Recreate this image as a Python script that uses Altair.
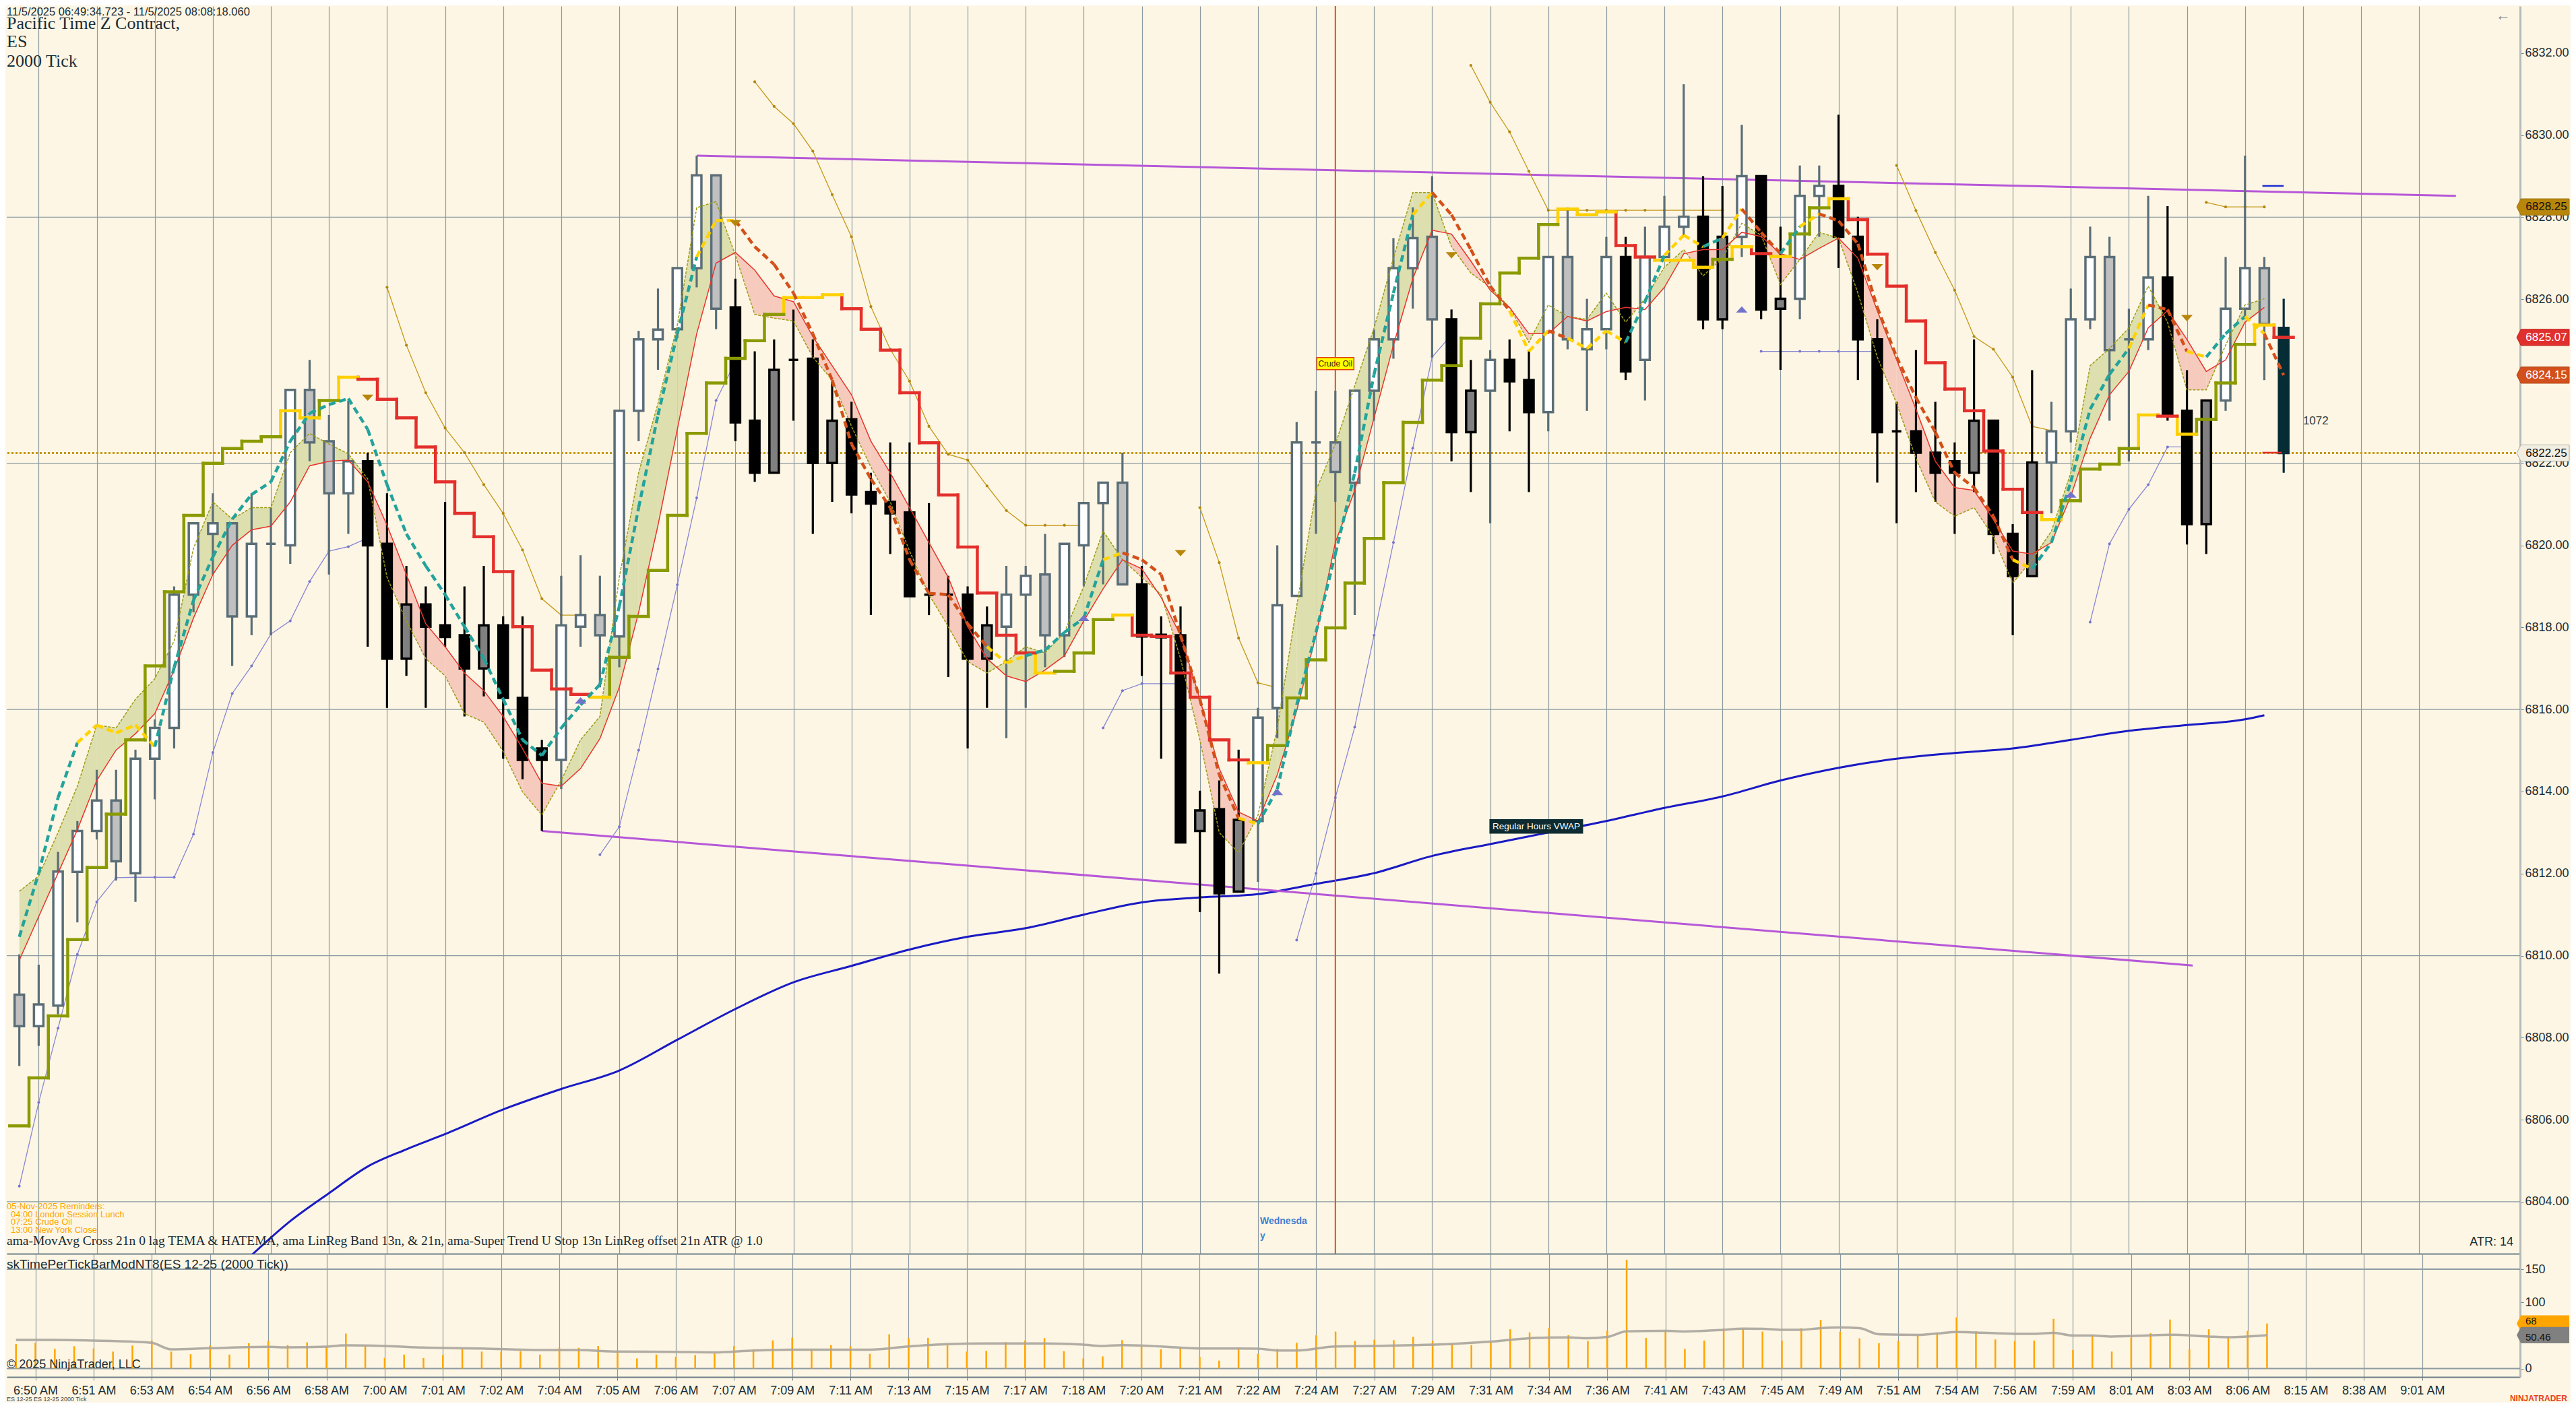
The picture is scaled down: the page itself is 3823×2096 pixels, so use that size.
import json
import altair as alt
import pandas as pd

# ------------------------------------------------------------------ data
TIME_LABELS = ["6:50 AM", "6:51 AM", "6:53 AM", "6:54 AM", "6:56 AM", "6:58 AM", "7:00 AM",
               "7:01 AM", "7:02 AM", "7:04 AM", "7:05 AM", "7:06 AM", "7:07 AM", "7:09 AM",
               "7:11 AM", "7:13 AM", "7:15 AM", "7:17 AM", "7:18 AM", "7:20 AM", "7:21 AM",
               "7:22 AM", "7:24 AM", "7:27 AM", "7:29 AM", "7:31 AM", "7:34 AM", "7:36 AM",
               "7:41 AM", "7:43 AM", "7:45 AM", "7:49 AM", "7:51 AM", "7:54 AM", "7:56 AM",
               "7:59 AM", "8:01 AM", "8:03 AM", "8:06 AM", "8:15 AM", "8:38 AM", "9:01 AM"]
FIRST_LABEL_BAR = 1
BARS_PER_LABEL = 3

# candle kind: W up-bar, G down-bar in up trend, B down-bar, D up-bar in down trend, C live bar
KIND = ("GWWWWGWWWW" "WGWWWGGWBB" "DBBBDBBBWW" "GWWWWWGBBD" "BBDBBBBBBB"
        "DWWGWWWGBB" "BDBDWWWWGW" "WWWGBDWBBW" "GWWBWWWBDW" "BDWWBBBBBB"
        "BDBBDWWWGW" "WBBDWWGC")

OPEN = [6809.05, 6808.28, 6808.78, 6812.04, 6813.04, 6813.78, 6812.01, 6814.80, 6815.55, 6818.80,
        6820.28, 6820.54, 6818.27, 6820.04, 6820.00, 6823.79, 6822.54, 6821.27, 6822.05, 6820.04,
        6817.24, 6818.56, 6818.05, 6817.81, 6817.00, 6818.05, 6816.28, 6815.05, 6814.77, 6818.02,
        6818.30, 6817.78, 6823.28, 6825.02, 6825.27, 6826.76, 6829.02, 6825.80, 6823.04, 6821.77,
        6824.52, 6824.55, 6822.01, 6823.07, 6821.30, 6821.06, 6820.80, 6818.80, 6818.80, 6818.80,
        6817.24, 6818.02, 6818.80, 6819.29, 6817.81, 6820.00, 6821.03, 6821.53, 6819.05, 6817.82,
        6817.81, 6813.04, 6813.57, 6811.56, 6813.28, 6816.04, 6818.77, 6822.51, 6822.51, 6821.53,
        6823.77, 6825.02, 6826.76, 6827.52, 6825.51, 6822.76, 6823.77, 6824.52, 6824.03, 6823.25,
        6827.03, 6824.78, 6825.27, 6827.03, 6824.52, 6827.03, 6827.77, 6828.01, 6825.51, 6827.52,
        6829.00, 6825.77, 6826.01, 6828.52, 6828.76, 6827.52, 6825.02, 6822.78, 6822.78, 6822.26,
        6822.05, 6821.77, 6823.04, 6820.28, 6819.25, 6822.02, 6822.78, 6825.51, 6827.03, 6825.02,
        6825.02, 6826.53, 6823.28, 6820.52, 6823.53, 6825.77, 6826.76, 6825.30]
HIGH = [6810.03, 6809.78, 6812.53, 6813.28, 6814.53, 6814.53, 6815.02, 6815.76, 6819.00, 6820.54,
        6821.27, 6820.54, 6821.27, 6820.92, 6823.79, 6824.52, 6823.18, 6823.53, 6822.26, 6821.27,
        6819.50, 6819.00, 6821.06, 6819.00, 6819.50, 6818.27, 6818.27, 6815.26, 6819.26, 6819.76,
        6819.26, 6823.28, 6825.23, 6826.26, 6826.76, 6829.50, 6829.02, 6826.50, 6824.73, 6825.02,
        6825.75, 6825.02, 6823.99, 6823.50, 6821.77, 6822.51, 6822.51, 6821.03, 6819.26, 6819.00,
        6818.51, 6819.50, 6819.50, 6820.28, 6820.04, 6821.03, 6821.53, 6822.26, 6819.50, 6818.27,
        6818.51, 6814.02, 6814.27, 6815.02, 6816.04, 6820.00, 6823.01, 6823.77, 6823.77, 6823.77,
        6825.26, 6827.49, 6828.24, 6829.00, 6825.75, 6824.52, 6824.76, 6825.02, 6824.76, 6827.03,
        6828.24, 6826.01, 6827.52, 6827.52, 6827.77, 6828.52, 6831.24, 6829.00, 6828.76, 6830.25,
        6829.00, 6827.77, 6829.26, 6829.26, 6830.50, 6828.01, 6825.51, 6823.50, 6824.76, 6823.50,
        6822.51, 6825.02, 6823.04, 6820.52, 6824.27, 6823.50, 6826.26, 6827.77, 6827.52, 6825.77,
        6828.52, 6828.27, 6824.27, 6823.53, 6827.03, 6829.50, 6827.03, 6826.01]
LOW = [6807.31, 6807.80, 6808.57, 6810.81, 6812.83, 6811.83, 6811.31, 6813.81, 6815.05, 6818.37,
       6819.29, 6817.06, 6817.81, 6817.81, 6819.55, 6822.05, 6819.29, 6820.28, 6817.53, 6816.04,
       6816.82, 6816.04, 6817.53, 6815.83, 6816.32, 6814.80, 6814.30, 6813.04, 6814.06, 6817.53,
       6816.54, 6817.03, 6822.54, 6824.28, 6825.05, 6826.29, 6825.27, 6822.54, 6821.55, 6821.77,
       6823.04, 6820.28, 6821.06, 6820.78, 6818.30, 6819.79, 6818.76, 6818.30, 6816.79, 6815.05,
       6816.04, 6815.30, 6816.04, 6817.03, 6817.28, 6819.00, 6819.05, 6819.05, 6816.82, 6814.80,
       6812.76, 6811.06, 6809.56, 6811.56, 6811.80, 6815.30, 6818.77, 6820.28, 6821.06, 6818.30,
       6823.04, 6824.55, 6825.77, 6824.59, 6822.05, 6821.30, 6820.54, 6822.78, 6821.30, 6822.78,
       6824.78, 6823.28, 6824.78, 6824.03, 6823.53, 6827.03, 6827.53, 6825.27, 6825.27, 6827.03,
       6825.51, 6824.28, 6825.51, 6827.52, 6826.76, 6824.03, 6821.53, 6820.54, 6821.30, 6821.06,
       6820.28, 6821.30, 6819.79, 6817.81, 6819.25, 6820.78, 6822.51, 6825.27, 6823.04, 6822.05,
       6824.76, 6823.04, 6820.02, 6819.79, 6823.28, 6825.51, 6824.03, 6821.77]
CLOSE = [6808.28, 6808.81, 6812.05, 6813.04, 6813.78, 6812.30, 6814.80, 6815.55, 6818.80, 6820.54,
         6820.54, 6818.27, 6820.04, 6820.04, 6823.79, 6822.51, 6821.27, 6822.05, 6820.00, 6817.24,
         6818.56, 6818.02, 6817.77, 6817.00, 6818.05, 6816.28, 6814.77, 6814.77, 6818.05, 6818.30,
         6817.81, 6823.28, 6825.02, 6825.26, 6826.76, 6829.02, 6825.77, 6823.00, 6821.77, 6824.28,
         6824.52, 6822.01, 6823.04, 6821.24, 6821.02, 6820.78, 6818.76, 6818.80, 6818.80, 6817.24,
         6818.05, 6818.80, 6819.26, 6817.81, 6820.04, 6821.03, 6821.53, 6819.05, 6817.78, 6817.76,
         6812.76, 6813.54, 6811.52, 6813.31, 6815.80, 6818.54, 6822.51, 6822.51, 6821.79, 6823.77,
         6825.02, 6826.76, 6827.49, 6825.51, 6822.76, 6823.77, 6824.52, 6824.00, 6823.25, 6827.03,
         6825.02, 6825.27, 6827.03, 6824.24, 6827.03, 6827.77, 6828.01, 6825.51, 6827.52, 6829.00,
         6825.75, 6826.01, 6828.52, 6828.76, 6827.52, 6825.02, 6822.76, 6822.78, 6822.26, 6821.77,
         6821.77, 6823.04, 6820.28, 6819.25, 6822.02, 6822.78, 6825.51, 6827.03, 6824.76, 6825.02,
         6826.53, 6823.18, 6820.52, 6823.53, 6825.77, 6826.76, 6825.40, 6822.25]

# super-trend stop (stepped): O olive, R red, Y yellow
STOP = [6805.85, 6807.02, 6808.53, 6810.39, 6812.15, 6813.45, 6815.26, 6817.06, 6818.87, 6820.73,
        6822.00, 6822.36, 6822.54, 6822.65, 6823.28, 6823.11, 6823.53, 6824.10, 6824.05, 6823.56,
        6823.11, 6822.40, 6821.55, 6820.78, 6820.21, 6819.36, 6818.02, 6816.96, 6816.50, 6816.37,
        6816.30, 6817.27, 6818.27, 6819.39, 6820.73, 6822.73, 6823.96, 6824.56, 6824.99, 6825.63,
        6826.04, 6826.04, 6826.11, 6825.77, 6825.27, 6824.76, 6823.72, 6822.50, 6821.23, 6819.96,
        6818.84, 6817.81, 6817.38, 6816.89, 6816.93, 6817.38, 6818.19, 6818.30, 6817.81, 6817.78,
        6816.89, 6816.30, 6815.26, 6814.77, 6814.70, 6815.12, 6816.28, 6817.21, 6817.99, 6819.08,
        6820.17, 6821.53, 6823.00, 6824.03, 6824.38, 6825.05, 6825.89, 6826.64, 6827.00, 6827.82,
        6828.20, 6828.06, 6828.13, 6827.31, 6827.03, 6826.95, 6826.95, 6826.78, 6826.97, 6827.28,
        6827.11, 6827.04, 6827.59, 6828.23, 6828.45, 6827.94, 6827.10, 6826.32, 6825.47, 6824.45,
        6823.81, 6823.28, 6822.30, 6821.37, 6820.80, 6820.63, 6821.09, 6821.86, 6821.98, 6822.36,
        6823.18, 6823.15, 6822.71, 6823.07, 6823.96, 6824.90, 6825.37, 6825.07]
STOP_COL = ("OOOOOOOOOO" "OOOOYYOYRR" "RRRRRRRRRR" "YOOOOOOOOO" "YYYRRRRRRR"
            "RRRYOOOYRR" "RRRRYOOOOO" "OOOOOOOOOO" "YYYRRYYYOY" "RYOOYRRRRR"
            "RRRRRYOOOO" "YRYOOOYR")

# TEMA cross line (dashed), colour of segment i -> i+1: T teal, O orange, Y yellow
TEMA = [6810.46, 6812.01, 6813.85, 6815.19, 6815.62, 6815.43, 6815.62, 6815.09, 6817.03, 6818.66,
        6819.72, 6820.64, 6821.24, 6821.55, 6822.54, 6823.22, 6823.43, 6823.58, 6822.83, 6821.48,
        6820.28, 6819.50, 6818.80, 6818.02, 6817.24, 6816.25, 6815.26, 6814.88, 6815.55, 6816.11,
        6816.61, 6818.51, 6820.92, 6823.18, 6825.16, 6827.03, 6827.92, 6827.92, 6827.28, 6826.85,
        6826.15, 6825.16, 6824.03, 6822.47, 6821.62, 6820.92, 6819.65, 6818.83, 6818.80, 6818.09,
        6817.53, 6817.13, 6817.31, 6817.45, 6817.88, 6818.23, 6819.65, 6819.82, 6819.65, 6819.29,
        6817.81, 6816.25, 6814.41, 6813.35, 6813.21, 6814.06, 6816.11, 6817.88, 6819.79, 6821.77,
        6824.17, 6826.15, 6828.06, 6828.60, 6828.06, 6827.21, 6826.32, 6825.72, 6824.73, 6825.23,
        6825.05, 6824.80, 6825.23, 6824.95, 6825.94, 6827.07, 6827.56, 6827.28, 6827.49, 6828.20,
        6827.63, 6827.11, 6827.77, 6828.08, 6827.91, 6827.35, 6825.80, 6824.59, 6823.60, 6822.76,
        6821.77, 6821.41, 6820.71, 6819.65, 6819.43, 6820.07, 6821.55, 6823.32, 6824.17, 6824.80,
        6825.86, 6825.75, 6824.73, 6824.59, 6825.16, 6825.58, 6825.16, 6824.15]
TEMA_SEG = ("TTTYYYYTTT" "TTTTTTTTTT" "TTTTTTTTTT" "TTTTTYYOOO" "OOOOOOOOOO"
            "YYTTTTYOOO" "OOOYTTTTTT" "TTYOOOOYYO" "YYYTTYYTYO" "OTYOOOOOOO"
            "OOOYTTTTTY" "OOYTTYO")

# LinReg band: fast (13) and slow (21)
FAST = [6811.57, 6811.94, 6813.00, 6814.13, 6815.62, 6815.55, 6816.25, 6816.75, 6817.67, 6819.93,
        6821.06, 6820.64, 6820.92, 6820.92, 6822.26, 6822.73, 6822.47, 6822.23, 6821.62, 6819.22,
        6818.16, 6817.24, 6816.82, 6815.90, 6815.69, 6814.98, 6813.99, 6813.43, 6814.27, 6815.26,
        6815.83, 6819.22, 6821.77, 6823.46, 6825.37, 6828.23, 6828.38, 6827.07, 6825.63, 6825.54,
        6825.47, 6824.59, 6824.03, 6822.90, 6821.91, 6821.06, 6819.86, 6818.80, 6818.02, 6817.17,
        6816.89, 6817.17, 6817.53, 6817.38, 6817.88, 6819.00, 6820.35, 6819.65, 6819.22, 6818.80,
        6817.24, 6815.26, 6813.00, 6812.51, 6813.42, 6815.55, 6818.51, 6821.34, 6822.47, 6823.89,
        6825.30, 6827.00, 6828.60, 6828.60, 6827.28, 6826.64, 6826.29, 6825.80, 6824.95, 6825.86,
        6825.58, 6825.51, 6826.15, 6825.44, 6826.01, 6826.78, 6827.21, 6826.57, 6827.00, 6827.85,
        6827.56, 6826.36, 6826.97, 6827.63, 6827.49, 6826.15, 6824.59, 6823.46, 6822.12, 6821.06,
        6820.71, 6820.92, 6820.21, 6819.08, 6819.65, 6820.35, 6821.77, 6824.38, 6824.80, 6825.30,
        6826.32, 6825.44, 6823.79, 6823.79, 6824.88, 6825.86, 6826.01]
SLOW = [6809.89, 6810.95, 6812.01, 6813.07, 6814.27, 6815.01, 6815.41, 6815.90, 6816.96, 6818.23,
        6819.29, 6820.00, 6820.38, 6820.47, 6821.06, 6821.94, 6822.05, 6822.08, 6821.55, 6820.49,
        6819.29, 6818.09, 6817.53, 6816.89, 6816.46, 6815.83, 6815.05, 6814.20, 6814.13, 6814.56,
        6815.29, 6816.54, 6818.37, 6820.49, 6822.83, 6825.16, 6826.88, 6827.14, 6826.71, 6826.08,
        6825.94, 6825.09, 6824.38, 6823.67, 6822.54, 6821.77, 6820.92, 6820.07, 6819.22, 6818.02,
        6817.24, 6816.82, 6816.68, 6816.96, 6817.31, 6818.16, 6818.94, 6819.65, 6819.43, 6818.73,
        6817.81, 6816.25, 6814.56, 6813.50, 6813.28, 6814.41, 6815.97, 6817.81, 6820.07, 6821.34,
        6823.11, 6824.88, 6826.50, 6827.68, 6827.59, 6826.93, 6826.22, 6825.80, 6825.16, 6825.16,
        6825.58, 6825.47, 6825.70, 6825.80, 6825.75, 6826.29, 6827.11, 6827.21, 6827.21, 6827.63,
        6827.53, 6827.11, 6826.97, 6827.24, 6827.49, 6827.00, 6825.72, 6824.52, 6823.32, 6822.05,
        6821.41, 6821.34, 6820.63, 6819.86, 6819.79, 6820.07, 6821.20, 6822.61, 6823.67, 6824.24,
        6825.30, 6825.72, 6825.02, 6824.24, 6824.52, 6825.44, 6825.80]

# offset trailing lines (start bar, values)
LAV_SEGS = [
    (0, [6804.38, 6806.42, 6808.23, 6810.03, 6811.31, 6811.90, 6811.91, 6811.91, 6811.91, 6812.96,
         6814.95, 6816.39, 6817.06, 6817.84, 6818.16, 6819.12, 6819.86, 6819.97, 6820.18]),
    (30, [6812.46, 6813.14, 6815.01, 6816.99, 6819.04, 6821.16, 6823.53, 6824.48]),
    (56, [6815.55, 6816.46, 6816.63, 6816.63, 6816.63]),
    (66, [6810.38, 6812.01, 6813.85, 6815.57, 6817.81, 6820.07, 6822.37, 6824.59, 6825.13]),
    (90, [6824.73, 6824.73, 6824.73, 6824.73, 6824.73, 6824.73, 6824.73]),
    (107, [6818.13, 6820.04, 6820.88, 6821.48, 6822.40, 6822.40]),
]
GOLD_SEGS = [
    (19, [6826.29, 6824.88, 6823.72, 6822.86, 6822.26, 6821.48, 6820.78, 6819.89, 6818.70, 6818.30,
          6818.30]),
    (38, [6831.30, 6830.70, 6830.28, 6829.61, 6828.55, 6827.52, 6825.82, 6824.78, 6824.00, 6822.90,
          6822.22, 6822.08, 6821.45, 6820.85, 6820.49, 6820.49, 6820.49, 6820.49]),
    (61, [6820.92, 6819.58, 6817.74, 6816.65, 6816.53]),
    (75, [6831.70, 6830.80, 6830.08, 6829.12, 6828.17, 6828.17, 6828.17, 6828.17, 6828.17, 6828.17,
          6828.17, 6828.17, 6828.17, 6828.17]),
    (97, [6829.26, 6828.16, 6827.14, 6826.22, 6825.09, 6824.78, 6824.10, 6822.90, 6822.80]),
    (113, [6828.36, 6828.25, 6828.25, 6828.25]),
]

VWAP_BAR = [12, 14, 16, 18, 20, 22, 25, 28, 31, 34, 37, 40, 43, 46, 49, 52, 55, 58, 61, 64, 67, 70,
            73, 76, 79, 82, 85, 88, 91, 94, 97, 100, 103, 106, 109, 112, 115, 116]
VWAP_VAL = [6802.70, 6803.53, 6804.21, 6804.86, 6805.28, 6805.65, 6806.25, 6806.75, 6807.20, 6807.95,
            6808.70, 6809.35, 6809.75, 6810.15, 6810.46, 6810.67, 6811.00, 6811.30, 6811.42, 6811.50,
            6811.75, 6812.01, 6812.43, 6812.72, 6813.00, 6813.28, 6813.60, 6813.88, 6814.27, 6814.58,
            6814.80, 6814.94, 6815.05, 6815.26, 6815.48, 6815.62, 6815.76, 6815.86]

TREND_UP = {"bar": [35, 125.9], "price": [6829.50, 6828.52]}
TREND_DN = {"bar": [27, 112.3], "price": [6813.04, 6809.76]}

TRI_DOWN_BAR = [18, 37, 60, 74, 96, 112]
TRI_DOWN_PRICE = [6823.60, 6827.85, 6819.81, 6827.07, 6826.78, 6825.54]
TRI_UP_BAR = [29, 55, 65, 89, 106]
TRI_UP_PRICE = [6816.22, 6818.23, 6813.99, 6825.75, 6821.24]

LAST_CLOSE = 6822.25
EVENT_BAR = 68                      # 07:25 Crude Oil
PRICE_GRID = [6804, 6810, 6816, 6822, 6828]
PRICE_TICKS = [6804, 6806, 6808, 6810, 6812, 6814, 6816, 6818, 6820, 6822, 6824, 6826, 6828, 6830, 6832]
PRICE_TICKS_UNDER_BADGE = [6824]

PRICE_BADGES = {"price": [6828.25, 6825.07, 6824.15, 6822.25],
                "label": ["6828.25", "6825.07", "6824.15", "6822.25"],
                "fill": ["#b8860b", "#e0302e", "#d2501c", "#f2eee2"],
                "stroke": ["#9a7008", "#c02020", "#b04010", "#a8aaa4"],
                "ink": ["#111111", "#ffffff", "#ffffff", "#111111"]}

VOLUME = [37.2, 38.9, 29.7, 33.7, 30.3, 25.6, 34.8, 42.6, 25.6, 21.8,
          34.8, 21.1, 38.2, 41.6, 35.4, 39.5, 33.1, 52.8, 34.8, 16.0,
          21.1, 16.0, 20.4, 29.0, 25.6, 25.6, 26.2, 21.1, 31.4, 31.4,
          34.1, 24.5, 15.3, 21.1, 17.7, 20.4, 22.8, 34.1, 28.6, 42.6,
          46.7, 29.7, 35.4, 33.7, 22.2, 51.8, 46.0, 46.4, 35.8, 25.6,
          26.6, 39.9, 42.3, 46.0, 26.2, 15.3, 18.4, 42.9, 34.1, 29.0,
          31.4, 17.7, 11.9, 31.4, 22.2, 29.7, 38.9, 50.1, 55.9, 41.6,
          43.6, 42.9, 47.7, 41.6, 37.5, 35.4, 39.9, 59.3, 54.5, 61.0,
          50.4, 41.6, 56.9, 164.3, 46.4, 56.6, 29.7, 42.3, 60.0, 60.0,
          55.9, 42.3, 61.0, 73.3, 55.9, 45.7, 38.2, 41.6, 50.1, 54.5,
          77.4, 56.2, 44.0, 41.6, 42.3, 75.0, 27.9, 51.1, 25.6, 46.7,
          53.5, 74.0, 29.0, 59.3, 47.4, 56.9, 68.0]
VOL_AVG_BAR = [0, 2, 4, 6, 7, 8, 10, 13, 14, 16, 17, 19, 21, 24, 27, 29, 31, 34, 36, 38, 40, 44,
               46, 48, 50, 53, 55, 56, 57, 59, 61, 63, 64, 65, 66, 68, 70, 72, 74, 76, 78, 79, 80,
               81, 82, 83, 85, 86, 88, 89, 90, 91, 92, 93, 94, 95, 96, 98, 99, 100, 101, 103, 104,
               105, 106, 107, 108, 110, 111, 113, 114, 116]
VOL_AVG_VAL = [43.3, 43.3, 42.3, 40.6, 38.9, 29.0, 30.7, 32.7, 32.0, 33.1, 35.1, 34.1, 31.7, 30.3,
               27.9, 27.9, 25.6, 25.2, 24.5, 27.3, 28.6, 28.6, 33.4, 36.8, 37.8, 37.8, 36.1, 34.1,
               35.4, 33.4, 30.3, 30.3, 30.0, 27.3, 27.3, 33.4, 34.1, 35.4, 37.2, 40.6, 45.7, 46.7,
               47.0, 45.7, 47.7, 56.2, 56.9, 55.9, 58.6, 60.3, 60.0, 58.6, 58.6, 61.0, 62.0, 61.0,
               51.8, 50.8, 52.8, 55.2, 54.5, 52.5, 52.5, 53.9, 49.8, 49.8, 48.4, 50.1, 51.1, 48.4,
               47.4, 50.46]
VOL_TICKS = [0, 50, 100, 150]
VOL_TICKS_UNDER_BADGE = [50]
VOL_GRID = [0, 150]
VOL_BADGES = {"v": [68, 50.46], "label": ["68", "50.46"], "fill": ["#ffa500", "#808080"]}

# ------------------------------------------------------------------ style
BG = "#fdf6e4"
GRID_C = "#8b9aa1"
SLATE = "#5b6e77"
FONT = "Liberation Sans"
SERIF = "Liberation Serif"
INK = "#1b2d36"
PW, PH, VH = 3730, 1852, 183
X_DOMAIN = [-0.476, 129.04]
P_DOMAIN = [6802.735, 6833.146]
V_DOMAIN = [-12.7, 173.4]

KIND_FILL = {"W": "#ffffff", "G": "#c0c0c0", "B": "#000000", "D": "#808080", "C": "#062c36"}
KIND_LINE = {"W": SLATE, "G": SLATE, "B": "#000000", "D": "#000000", "C": "#062c36"}
STOP_RGB = {"O": "#8a9a00", "R": "#e3302c", "Y": "#ffd000"}
TEMA_RGB = {"T": "#22a39b", "O": "#d4501a", "Y": "#ffd200"}
GREEN_FILL, PINK_FILL = "#dedfae", "#f6cbbd"

grid_bars = [FIRST_LABEL_BAR + BARS_PER_LABEL * k for k in range(len(TIME_LABELS))]
label_expr = f"{json.dumps(TIME_LABELS)}[round((datum.value - {FIRST_LABEL_BAR}) / {BARS_PER_LABEL})]"
price_label_expr = (f"indexof({json.dumps(PRICE_TICKS_UNDER_BADGE)}, datum.value) >= 0 ? '' "
                    f": format(datum.value, '.2f')")
vol_label_expr = (f"indexof({json.dumps(VOL_TICKS_UNDER_BADGE)}, datum.value) >= 0 ? '' "
                  f": format(datum.value, 'd')")

xs = alt.Scale(domain=X_DOMAIN, nice=False, zero=False)
ps = alt.Scale(domain=P_DOMAIN, nice=False, zero=False)
vs = alt.Scale(domain=V_DOMAIN, nice=False, zero=False)
lab = dict(labelFont=FONT, labelFontSize=18, labelColor=INK, tickColor="#6f7f88", tickSize=5,
           labelOverlap=False, labelFlush=False, title=None)

px_axis = alt.Axis(values=grid_bars, grid=True, gridColor=GRID_C, gridWidth=1.2, labels=False,
                   ticks=False, domain=True, domainColor="#6f8088", domainWidth=2, title=None)
py_axis = alt.Axis(orient="right", values=PRICE_TICKS, labelExpr=price_label_expr, grid=False,
                   domainColor="#b5bbbb", domainWidth=3, labelPadding=2, **lab)
vx_axis = alt.Axis(values=grid_bars, grid=True, gridColor=GRID_C, gridWidth=1.2, labelExpr=label_expr,
                   ticks=True, domain=True, domainColor="#6f8088", domainWidth=2, labelPadding=6, **lab)
vy_axis = alt.Axis(orient="right", values=VOL_TICKS, labelExpr=vol_label_expr, grid=False,
                   domainColor="#b5bbbb", domainWidth=3, labelPadding=2, **lab)


def PX(f):
    return alt.X(f, type="quantitative", scale=xs, axis=px_axis)


def PY(f):
    return alt.Y(f, type="quantitative", scale=ps, axis=py_axis)


def VX(f):
    return alt.X(f, type="quantitative", scale=xs, axis=vx_axis)


def VY(f):
    return alt.Y(f, type="quantitative", scale=vs, axis=vy_axis)


def ptext(t, x, y, size, color=INK, font=FONT, align="left", baseline="alphabetic", weight="normal"):
    return alt.Chart(pd.DataFrame({"t": [t]})).mark_text(
        align=align, baseline=baseline, font=font, fontSize=size, color=color, fontWeight=weight
    ).encode(x=alt.value(x), y=alt.value(y), text="t:N")


# ------------------------------------------------------------------ frames
n = len(OPEN)
bars = pd.DataFrame({"i": range(n), "o": OPEN, "h": HIGH, "l": LOW, "c": CLOSE, "k": list(KIND)})
bars["fill"] = bars["k"].map(KIND_FILL)
bars["line"] = bars["k"].map(KIND_LINE)

stop_h = pd.DataFrame({"x1": [i - 0.5 for i in range(n)], "x2": [i + 0.5 for i in range(n)],
                       "y": STOP, "col": [STOP_RGB[c] for c in STOP_COL]})
stop_v = pd.DataFrame({"x": [i + 0.5 for i in range(n - 1)], "y1": STOP[:-1], "y2": STOP[1:],
                       "col": [STOP_RGB[c] for c in STOP_COL[1:]]})
tema = pd.DataFrame({"x1": list(range(n - 1)), "x2": list(range(1, n)), "y1": TEMA[:-1],
                     "y2": TEMA[1:], "col": [TEMA_RGB[c] for c in TEMA_SEG]})

band_rows = []
for k in range(len(FAST) - 1):
    col = GREEN_FILL if FAST[k] + FAST[k + 1] >= SLOW[k] + SLOW[k + 1] else PINK_FILL
    for j in (k, k + 1):
        band_rows.append({"x": j, "f": FAST[j], "s": SLOW[j], "g": k, "col": col})
band = pd.DataFrame(band_rows)
band_lines = pd.DataFrame({"x": range(len(FAST)), "f": FAST, "s": SLOW})


def seg_frame(segs):
    rows = []
    for sid, (start, vals) in enumerate(segs):
        for j, v in enumerate(vals):
            rows.append({"x": start + j, "y": v, "seg": sid})
    return pd.DataFrame(rows)


lav = seg_frame(LAV_SEGS)
gold = seg_frame(GOLD_SEGS)
vwap = pd.DataFrame({"x": VWAP_BAR, "y": VWAP_VAL})
trends = pd.DataFrame({"x1": [TREND_UP["bar"][0], TREND_DN["bar"][0]],
                       "x2": [TREND_UP["bar"][1], TREND_DN["bar"][1]],
                       "y1": [TREND_UP["price"][0], TREND_DN["price"][0]],
                       "y2": [TREND_UP["price"][1], TREND_DN["price"][1]]})
tri_dn = pd.DataFrame({"x": TRI_DOWN_BAR, "y": TRI_DOWN_PRICE})
tri_up = pd.DataFrame({"x": TRI_UP_BAR, "y": TRI_UP_PRICE})
pbadge = pd.DataFrame(PRICE_BADGES)

# ------------------------------------------------------------------ price panel
BADGE_SHAPE = "M-1,0L-0.84,-0.31L1,-0.31L1,0.31L-0.84,0.31Z"
layers = [
    alt.Chart(pd.DataFrame({"y": PRICE_GRID})).mark_rule(color=GRID_C, strokeWidth=1.2).encode(y=PY("y")),
    alt.Chart(pd.DataFrame({"y": [LAST_CLOSE]})).mark_rule(
        color="#c79700", strokeWidth=3, strokeDash=[3, 3]).encode(y=PY("y")),
    alt.Chart(band).mark_area(opacity=1, clip=True).encode(
        x=PX("x"), y=PY("f"), y2=alt.Y2("s"), detail="g:N", fill=alt.Fill("col:N", scale=None)),
    alt.Chart(vwap).mark_line(color="#1a1ac4", strokeWidth=3, interpolate="monotone", clip=True).encode(
        x=PX("x"), y=PY("y")),
    alt.Chart(trends).mark_rule(color="#b657d8", strokeWidth=3, clip=True).encode(
        x=PX("x1"), x2=alt.X2("x2"), y=PY("y1"), y2=alt.Y2("y2")),
    alt.Chart(lav).mark_line(color="#8785d6", strokeWidth=1.3, clip=True).encode(
        x=PX("x"), y=PY("y"), detail="seg:N"),
    alt.Chart(lav).mark_circle(color="#7674cc", size=16, opacity=1, clip=True).encode(x=PX("x"), y=PY("y")),
    alt.Chart(gold).mark_line(color="#c49818", strokeWidth=1.3, clip=True).encode(
        x=PX("x"), y=PY("y"), detail="seg:N"),
    alt.Chart(gold).mark_circle(color="#b08810", size=18, opacity=1, clip=True).encode(x=PX("x"), y=PY("y")),
    alt.Chart(pd.DataFrame({"x": [EVENT_BAR]})).mark_rule(color="#d2561f", strokeWidth=2).encode(x=PX("x")),
    alt.Chart(bars).mark_rule(strokeWidth=3.2, clip=True).encode(
        x=PX("i"), y=PY("l"), y2=alt.Y2("h"), color=alt.Color("line:N", scale=None)),
    alt.Chart(bars).mark_bar(size=14, strokeWidth=3.5, clip=True).encode(
        x=PX("i"), y=PY("o"), y2=alt.Y2("c"), fill=alt.Fill("fill:N", scale=None),
        stroke=alt.Stroke("line:N", scale=None)),
    alt.Chart(band_lines).mark_line(color="#9c9c18", strokeWidth=1.5, strokeDash=[4, 2], clip=True).encode(
        x=PX("x"), y=PY("f")),
    alt.Chart(band_lines).mark_line(color="#e8342c", strokeWidth=1.5, clip=True).encode(x=PX("x"), y=PY("s")),
    alt.Chart(stop_v).mark_rule(strokeWidth=4.5, strokeCap="square", clip=True).encode(
        x=PX("x"), y=PY("y1"), y2=alt.Y2("y2"), color=alt.Color("col:N", scale=None)),
    alt.Chart(stop_h).mark_rule(strokeWidth=4.5, strokeCap="square", clip=True).encode(
        x=PX("x1"), x2=alt.X2("x2"), y=PY("y"), color=alt.Color("col:N", scale=None)),
    alt.Chart(tema).mark_rule(strokeWidth=4.5, strokeDash=[10, 6], clip=True).encode(
        x=PX("x1"), x2=alt.X2("x2"), y=PY("y1"), y2=alt.Y2("y2"), color=alt.Color("col:N", scale=None)),
    alt.Chart(tri_dn).mark_point(shape="M-1,-0.55L1,-0.55L0,0.55Z", size=290, filled=True, opacity=1,
                                 color="#b8860b").encode(x=PX("x"), y=PY("y")),
    alt.Chart(tri_up).mark_point(shape="M-1,0.55L1,0.55L0,-0.55Z", size=290, filled=True, opacity=1,
                                 color="#7272cc").encode(x=PX("x"), y=PY("y")),
    # small live-bar markers
    alt.Chart(pd.DataFrame({"x1": [115.9, 115.9], "x2": [117.0, 116.9], "y": [6828.76, 6822.26],
                            "col": ["#1e2fd0", "#e0302c"]})).mark_rule(strokeWidth=2.5).encode(
        x=PX("x1"), x2=alt.X2("x2"), y=PY("y"), color=alt.Color("col:N", scale=None)),
    # annotations anchored to the data
    alt.Chart(pd.DataFrame({"x": [EVENT_BAR], "y": [6824.43]})).mark_point(
        shape="M-1,-0.33L1,-0.33L1,0.33L-1,0.33Z", size=3025, filled=True, opacity=1, fill="#ffff00",
        stroke="#e04010", strokeWidth=1.5).encode(x=PX("x"), y=PY("y")),
    alt.Chart(pd.DataFrame({"x": [EVENT_BAR], "y": [6824.43], "t": ["Crude Oil"]})).mark_text(
        font=FONT, fontSize=12, color="#4a1400", baseline="middle").encode(x=PX("x"), y=PY("y"), text="t:N"),
    alt.Chart(pd.DataFrame({"x": [78.38], "y": [6813.15]})).mark_point(
        shape="M-1,-0.155L1,-0.155L1,0.155L-1,0.155Z", size=19321, filled=True, opacity=1,
        fill="#0d2b30", strokeWidth=0).encode(x=PX("x"), y=PY("y")),
    alt.Chart(pd.DataFrame({"x": [78.38], "y": [6813.15], "t": ["Regular Hours VWAP"]})).mark_text(
        font=FONT, fontSize=13.5, color="#ffffff", baseline="middle").encode(x=PX("x"), y=PY("y"), text="t:N"),
    alt.Chart(pd.DataFrame({"x": [118.0], "y": [6823.03], "t": ["1072"]})).mark_text(
        font=FONT, fontSize=17, color="#2e3a40", align="left", baseline="middle").encode(
        x=PX("x"), y=PY("y"), text="t:N"),
    # header / footer text
    ptext("11/5/2025 06:49:34.723 - 11/5/2025 08:08:18.060", 0, 14, 16.5),
    ptext("Pacific Time Z Contract,", 0, 34, 26, font=SERIF),
    ptext("ES", 0, 61, 26, font=SERIF),
    ptext("2000 Tick", 0, 90, 26, font=SERIF),
    ptext("←", 3705, 14, 22, color="#6f7f8a", align="center", baseline="middle"),
    ptext("05-Nov-2025 Reminders:", 0, 1786, 13, color="#ffa500"),
    ptext("04:00 London Session Lunch", 6, 1797.5, 13, color="#ffa500"),
    ptext("07:25 Crude Oil", 6, 1809, 13, color="#ffa500"),
    ptext("13:00 New York Close", 6, 1820.5, 13, color="#ffa500"),
    ptext("ama-MovAvg Cross 21n 0 lag TEMA & HATEMA, ama LinReg Band 13n, & 21n, "
          "ama-Super Trend U Stop 13n LinReg offset 21n ATR @ 1.0", 0, 1839, 19.5, font=SERIF),
    ptext("Wednesda", 1860, 1808, 14, color="#3f7fd2", weight="bold"),
    ptext("y", 1860, 1830, 14, color="#3f7fd2", weight="bold"),
    ptext("ATR: 14", 3720, 1840, 18, align="right"),
    # price badges on the axis
    alt.Chart(pbadge).mark_point(shape=BADGE_SHAPE, size=6084, filled=True, opacity=1, strokeWidth=1).encode(
        x=alt.value(3764), y=PY("price"), fill=alt.Fill("fill:N", scale=None),
        stroke=alt.Stroke("stroke:N", scale=None)),
    alt.Chart(pbadge).mark_text(font=FONT, fontSize=17, baseline="middle", align="center").encode(
        x=alt.value(3769), y=PY("price"), text="label:N", color=alt.Color("ink:N", scale=None)),
]
price = alt.layer(*layers).properties(width=PW, height=PH)

# ------------------------------------------------------------------ volume panel
vol = pd.DataFrame({"i": range(len(VOLUME)), "v": VOLUME, "base": [0] * len(VOLUME)})
vavg = pd.DataFrame({"x": VOL_AVG_BAR, "y": VOL_AVG_VAL})
vbadge = pd.DataFrame(VOL_BADGES)
vlayers = [
    alt.Chart(pd.DataFrame({"y": VOL_GRID})).mark_rule(color="#8d9ba2", strokeWidth=2).encode(y=VY("y")),
    alt.Chart(vol).mark_rule(color="#ffa500", strokeWidth=2.5).encode(x=VX("i"), y=VY("base"), y2=alt.Y2("v")),
    alt.Chart(vavg).mark_line(color="#aaa59c", strokeWidth=3.5, opacity=0.9, interpolate="monotone").encode(
        x=VX("x"), y=VY("y")),
    ptext("skTimePerTickBarModNT8(ES 12-25 (2000 Tick))", 0, 22, 19),
    ptext("© 2025 NinjaTrader, LLC", 0, 170, 18),
    ptext("ES 12-25 ES 12-25 2000 Tick", 0, 219, 9, color="#444444"),
    ptext("NINJATRADER", 3800, 219, 12, color="#e8401c", align="right", weight="bold"),
    alt.Chart(vbadge).mark_point(shape=BADGE_SHAPE, size=6084, filled=True, opacity=1, strokeWidth=0).encode(
        x=alt.value(3764), y=VY("v"), fill=alt.Fill("fill:N", scale=None)),
    alt.Chart(vbadge[vbadge["label"] == "68"]).mark_text(
        font=FONT, fontSize=15, baseline="middle", align="left", color="#111111", dy=-4).encode(
        x=alt.value(3738), y=VY("v"), text="label:N"),
    alt.Chart(vbadge[vbadge["label"] != "68"]).mark_text(
        font=FONT, fontSize=15, baseline="middle", align="left", color="#111111", dy=3).encode(
        x=alt.value(3738), y=VY("v"), text="label:N"),
]
volume = alt.layer(*vlayers).properties(width=PW, height=VH)

chart = alt.vconcat(price, volume, spacing=0, bounds="flush").properties(
    padding=0, background=BG).configure_view(stroke=None)

chart.save("out.html", embed_options={"renderer": "svg", "actions": False})
